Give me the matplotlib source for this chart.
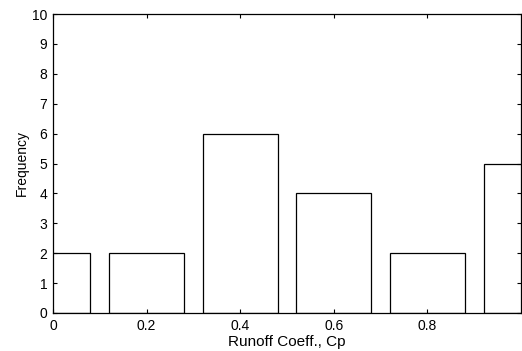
import numpy as np
import matplotlib.pyplot as plt

plt.rcParams['font.family'] = ['Liberation Sans', 'DejaVu Sans']

# bin centres and counts
centers = [0.0, 0.2, 0.4, 0.6, 0.8, 1.0]
counts = [2, 2, 6, 4, 2, 5]
xticks = [0, 0.2, 0.4, 0.6, 0.8]
yticks = list(range(0, 11))

fig = plt.figure(figsize=(5.22, 3.51), dpi=100)
ax = fig.add_axes([53 / 522, 1 - 313 / 351, (521 - 53) / 522, (313 - 14) / 351])

ax.bar(centers, counts, width=0.16, color='white', edgecolor='black', linewidth=0.9)

ax.set_xlim(0, 1)
ax.set_ylim(0, 10)
ax.set_xticks(xticks)
ax.set_xticklabels(['0', '0.2', '0.4', '0.6', '0.8'])
ax.set_yticks(yticks)
ax.tick_params(direction='in', length=3, width=0.8, labelsize=10, top=True, right=True, pad=4)
ax.set_xlabel('Runoff Coeff., Cp', fontsize=11, labelpad=2)
ax.set_ylabel('Frequency', fontsize=10, labelpad=2)
for s in ax.spines.values():
    s.set_linewidth(0.9)

fig.savefig('out.png', dpi=100)
